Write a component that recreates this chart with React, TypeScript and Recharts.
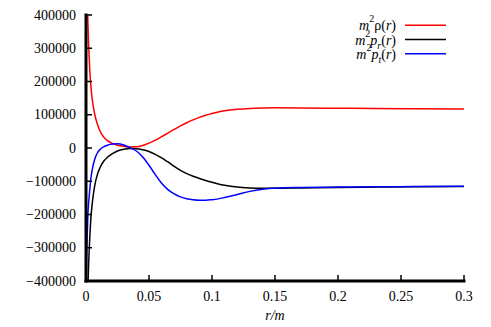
import React from 'react';
import { LineChart, Line, XAxis, YAxis, Legend } from 'recharts';

const rValues = [0.0002, 0.0005, 0.001, 0.0015, 0.002, 0.003, 0.004, 0.005, 0.007, 0.009, 0.011, 0.014, 0.017, 0.021, 0.025, 0.03, 0.035, 0.04, 0.045, 0.05, 0.055, 0.06, 0.065, 0.07, 0.075, 0.08, 0.085, 0.09, 0.095, 0.1, 0.105, 0.11, 0.12, 0.13, 0.14, 0.15, 0.17, 0.2, 0.23, 0.26, 0.3];
const rhoValues = [1500000, 900000, 470000, 380000, 320000, 235000, 180000, 145000, 100000, 72000, 52000, 33000, 22000, 13500, 8500, 5000, 3000, 3500, 7500, 14500, 23500, 34000, 45000, 56000, 66500, 76000, 84500, 92000, 98500, 104000, 108500, 112000, 116500, 119000, 120300, 120800, 120500, 119500, 118500, 117800, 117000];
const prValues = [-1500000, -900000, -600000, -430000, -360000, -270000, -205000, -165000, -112000, -80000, -60000, -40000, -28000, -17000, -9000, -3500, -1500, -2000, -5000, -10500, -19000, -29500, -42000, -55000, -67000, -77000, -85000, -91500, -97500, -103000, -108000, -112000, -117500, -120000, -121000, -121000, -120000, -118500, -117500, -116500, -115500];
const ptValues = [-400000, -330000, -260000, -200000, -170000, -125000, -88000, -64000, -33000, -15000, -5000, 3500, 8500, 12000, 12500, 9000, 1000, -9000, -27000, -52000, -80000, -106000, -125000, -138000, -147000, -152500, -155500, -157000, -157000, -155500, -153000, -149000, -140000, -130500, -124000, -120500, -118500, -117500, -116500, -116000, -115000];

const xTicks = [0, 0.05, 0.1, 0.15, 0.2, 0.25, 0.3];
const xTickLabels = ['0', '0.05', '0.1', '0.15', '0.2', '0.25', '0.3'];
const yTicks = [-400000, -300000, -200000, -100000, 0, 100000, 200000, 300000, 400000];
const yTickLabels = ['\u2212400000', '\u2212300000', '\u2212200000', '\u2212100000', '0', '100000', '200000', '300000', '400000'];
const seriesKeys = ['rho', 'pr', 'pt'];
const legendBases = ['\u03c1', 'p', 'p'];
const legendSubs = ['', 'r', 't'];
const xLabel = 'r/m';

const COLORS = ['#ff0000', '#000000', '#0000ff'];
const FONT = '"Liberation Serif", "Times New Roman", serif';

const data = rValues.map((r, i) => ({ r, rho: rhoValues[i], pr: prValues[i], pt: ptValues[i] }));

const BottomTick = (props: any) => {
  const { x, y, index } = props;
  return (
    <g>
      <line x1={x} y1={y} x2={x} y2={y - 6} stroke="#000" strokeWidth={1.5} />
      <text x={x} y={y + 20} textAnchor="middle" style={{ fontFamily: FONT, fontSize: 14 }} fill="#000">
        {xTickLabels[index]}
      </text>
    </g>
  );
};

const TopTick = (props: any) => {
  const { x, y } = props;
  return <line x1={x} y1={y} x2={x} y2={y + 6} stroke="#000" strokeWidth={1.5} />;
};

const LeftTick = (props: any) => {
  const { x, y, index } = props;
  return (
    <g>
      <line x1={x} y1={y} x2={x + 6} y2={y} stroke="#000" strokeWidth={1.5} />
      <text x={x - 10} y={y + 4.6} textAnchor="end" style={{ fontFamily: FONT, fontSize: 14 }} fill="#000">
        {yTickLabels[index]}
      </text>
    </g>
  );
};

const RightTick = (props: any) => {
  const { x, y } = props;
  return <line x1={x} y1={y} x2={x - 6} y2={y} stroke="#000" strokeWidth={1.5} />;
};

const LegendContent = () => (
  <svg width={491} height={70} style={{ display: 'block' }}>
    {seriesKeys.map((k, i) => {
      const ly = 25.3 + i * 14.2;
      return (
        <g key={k}>
          <text x={396} y={ly + 5} textAnchor="end" style={{ fontFamily: FONT, fontSize: 14 }} fill="#000">
            <tspan fontStyle="italic">m</tspan>
            <tspan dy={-8} fontSize={10}>2</tspan>
            <tspan dy={8} fontStyle={legendSubs[i] ? 'italic' : 'normal'}>{legendBases[i]}</tspan>
            {legendSubs[i] ? (
              <>
                <tspan dy={4} fontSize={10} fontStyle="italic">{legendSubs[i]}</tspan>
                <tspan dy={-4}>(</tspan>
              </>
            ) : (
              <tspan>(</tspan>
            )}
            <tspan fontStyle="italic">r</tspan>
            <tspan>)</tspan>
          </text>
          <line x1={405} y1={ly} x2={446} y2={ly} stroke={COLORS[i]} strokeWidth={1.5} />
        </g>
      );
    })}
  </svg>
);

const XLabel = (props: any) => {
  const vb = props.viewBox || {};
  return (
    <text x={vb.x + vb.width / 2} y={vb.y + 39} textAnchor="middle" style={{ fontFamily: FONT, fontSize: 14, fontStyle: 'italic' }} fill="#000">
      {xLabel}
    </text>
  );
};

const axisLine = { stroke: '#000', strokeWidth: 3, strokeLinecap: 'square' as const };

export default function App() {
  return (
    <div style={{ position: 'absolute', left: 0, top: 0, width: 491, height: 327, background: '#fff' }}>
      <LineChart width={491} height={327} data={data} margin={{ top: 15, right: 27, bottom: 0, left: 0 }}>
        <XAxis
          xAxisId="bottom"
          dataKey="r"
          type="number"
          domain={[0, 0.3]}
          ticks={xTicks}
          interval={0}
          height={46}
          tickSize={0}
          tickMargin={0}
          axisLine={axisLine}
          tick={<BottomTick />}
          label={<XLabel />}
        />
        <XAxis
          xAxisId="top"
          orientation="top"
          dataKey="r"
          type="number"
          domain={[0, 0.3]}
          ticks={xTicks}
          interval={0}
          height={0}
          tickSize={0}
          tickMargin={0}
          axisLine={axisLine}
          tick={<TopTick />}
        />
        <YAxis
          yAxisId="left"
          type="number"
          domain={[-400000, 400000]}
          ticks={yTicks}
          interval={0}
          allowDataOverflow
          width={86}
          tickSize={0}
          tickMargin={0}
          axisLine={axisLine}
          tick={<LeftTick />}
        />
        <YAxis
          yAxisId="right"
          orientation="right"
          type="number"
          domain={[-400000, 400000]}
          ticks={yTicks}
          interval={0}
          allowDataOverflow
          width={0}
          tickSize={0}
          tickMargin={0}
          axisLine={axisLine}
          tick={<RightTick />}
        />
        <Legend
          layout="horizontal"
          align="center"
          verticalAlign="middle"
          wrapperStyle={{ position: 'absolute', left: 0, top: 0, width: 491, height: 70 }}
          content={<LegendContent />}
        />
        {seriesKeys.map((k, i) => (
          <Line
            key={k}
            xAxisId="bottom"
            yAxisId="left"
            dataKey={k}
            type="monotone"
            stroke={COLORS[i]}
            strokeWidth={1.5}
            dot={false}
            activeDot={false}
            isAnimationActive={false}
          />
        ))}
      </LineChart>
    </div>
  );
}
